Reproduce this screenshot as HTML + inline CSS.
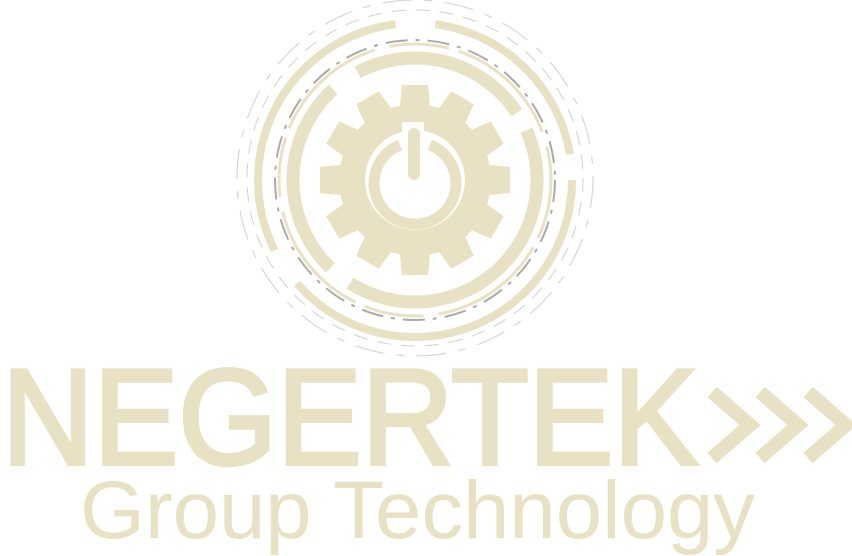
<!DOCTYPE html>
<html><head><meta charset="utf-8"><style>
html,body{margin:0;padding:0;background:#fff;width:852px;height:556px;overflow:hidden}
svg{display:block}
</style></head><body>
<svg width="852" height="556" viewBox="0 0 852 556">
<g fill="none">
  <circle cx="415" cy="178" r="178" stroke="#d6d6d6" stroke-width="1.2" stroke-dasharray="30 12 8 12"/>
  <circle cx="415" cy="178" r="168" stroke="#d0d0d0" stroke-width="1" stroke-dasharray="14 10"/>
  <circle cx="415" cy="180" r="157" stroke="#e8e1c3" stroke-width="8" stroke-dasharray="380 40 300 40 200 30"/>
  <circle cx="415" cy="180" r="140" stroke="#aaaaaa" stroke-width="2" stroke-dasharray="22 8 4 8"/>
  <circle cx="415" cy="180" r="136" stroke="#e8e1c3" stroke-width="3" stroke-dasharray="60 10 120 15"/>
  <circle cx="415" cy="180" r="122" stroke="#e8e1c3" stroke-width="13" stroke-dasharray="260 25 200 30 180 20"/>
  <circle cx="415" cy="180" r="76" fill="#e8e1c3"/>
  <g fill="#e8e1c3">
    <path d="M399 115 L402 85 L428 85 L431 115 Z"/>
    <path d="M399 115 L402 85 L428 85 L431 115 Z" transform="rotate(30 415 180)"/>
    <path d="M399 115 L402 85 L428 85 L431 115 Z" transform="rotate(60 415 180)"/>
    <path d="M399 115 L402 85 L428 85 L431 115 Z" transform="rotate(90 415 180)"/>
    <path d="M399 115 L402 85 L428 85 L431 115 Z" transform="rotate(120 415 180)"/>
    <path d="M399 115 L402 85 L428 85 L431 115 Z" transform="rotate(150 415 180)"/>
    <path d="M399 115 L402 85 L428 85 L431 115 Z" transform="rotate(180 415 180)"/>
    <path d="M399 115 L402 85 L428 85 L431 115 Z" transform="rotate(210 415 180)"/>
    <path d="M399 115 L402 85 L428 85 L431 115 Z" transform="rotate(240 415 180)"/>
    <path d="M399 115 L402 85 L428 85 L431 115 Z" transform="rotate(270 415 180)"/>
    <path d="M399 115 L402 85 L428 85 L431 115 Z" transform="rotate(300 415 180)"/>
    <path d="M399 115 L402 85 L428 85 L431 115 Z" transform="rotate(330 415 180)"/>
  </g>
  <circle cx="415" cy="180" r="50" fill="#fff"/>
  <path d="M400 145 A41 41 0 1 0 430 145" stroke="#e8e1c3" stroke-width="11" stroke-linecap="butt"/>
  <rect x="402" y="122" width="22" height="66" fill="#fff"/>
  <rect x="408" y="128" width="12" height="52" rx="6" fill="#e8e1c3"/>
</g>
<text x="2" y="464" font-family="Liberation Sans, sans-serif" font-size="136" fill="#e8e1c3" stroke="#e8e1c3" stroke-width="4" textLength="696" lengthAdjust="spacingAndGlyphs">NEGERTEK</text>
<g fill="none" stroke="#e8e1c3" stroke-width="14">
  <polyline points="712,392 750,425 712,458"/>
  <polyline points="760,392 798,425 760,458"/>
  <polyline points="808,392 846,425 808,458"/>
</g>
<text x="80" y="538" font-family="Liberation Sans, sans-serif" font-size="82" fill="#e8e1c3" textLength="675" lengthAdjust="spacingAndGlyphs">Group Technology</text>
</svg>
</body></html>
